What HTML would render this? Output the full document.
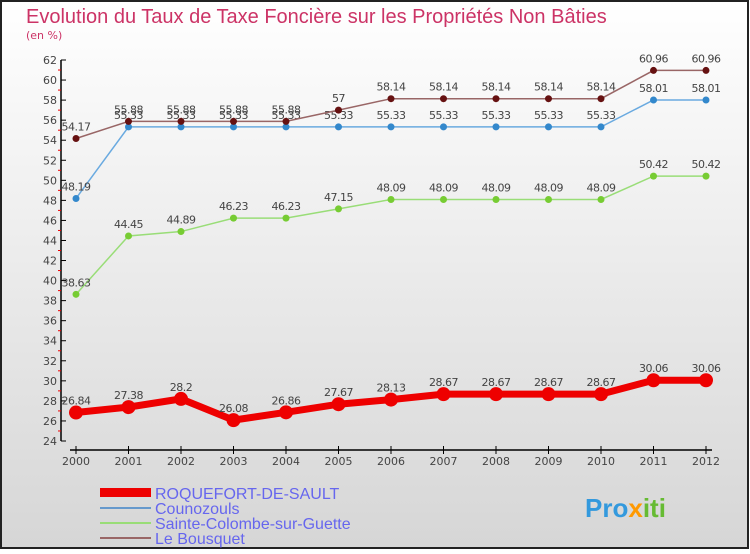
<!DOCTYPE html>
<html><head><meta charset="utf-8"><style>
html,body{margin:0;padding:0}
body{width:750px;height:550px;overflow:hidden;font-family:"DejaVu Sans","Liberation Sans",sans-serif}
</style></head><body>
<svg id="chart" width="750" height="550" xmlns="http://www.w3.org/2000/svg">
<defs><linearGradient id="bg" x1="0" y1="0" x2="0" y2="1"><stop offset="0" stop-color="#ffffff"/><stop offset="1" stop-color="#d6d6d6"/></linearGradient></defs>
<rect x="1" y="1" width="747" height="547" fill="url(#bg)" stroke="#222" stroke-width="2"/>
<text x="26" y="23" font-size="20" fill="#cc3366" font-family="Liberation Sans, sans-serif">Evolution du Taux de Taxe Foncière sur les Propriétés Non Bâties</text>
<text x="26" y="39" font-size="11" fill="#cc3366">(en %)</text>
<g id="axes"></g>
<g id="series"></g>
<g id="legend" font-family="Liberation Sans, sans-serif">
<rect x="100" y="488" width="51" height="9" fill="#ee0000"/>
<text x="155" y="499" font-size="16" fill="#6666ee">ROQUEFORT-DE-SAULT</text>
<rect x="100" y="507" width="51" height="2" fill="#6699cc"/>
<text x="155" y="514" font-size="16" fill="#6666ee">Counozouls</text>
<rect x="100" y="522" width="51" height="2" fill="#99dd77"/>
<text x="155" y="529" font-size="16" fill="#6666ee">Sainte-Colombe-sur-Guette</text>
<rect x="100" y="537" width="51" height="2" fill="#996666"/>
<text x="155" y="544" font-size="16" fill="#6666ee">Le Bousquet</text>
</g>
<text x="585" y="517" font-size="26" font-family="Liberation Sans, sans-serif" font-weight="bold" fill="#3399dd">Pro<tspan fill="#ff9900">x</tspan><tspan fill="#66bb33">iti</tspan></text>
</svg>
<script>
const years=[2000,2001,2002,2003,2004,2005,2006,2007,2008,2009,2010,2011,2012];
const roquefort=[26.84,27.38,28.2,26.08,26.86,27.67,28.13,28.67,28.67,28.67,28.67,30.06,30.06];
const counozouls=[48.19,55.33,55.33,55.33,55.33,55.33,55.33,55.33,55.33,55.33,55.33,58.01,58.01];
const sainteColombe=[38.63,44.45,44.89,46.23,46.23,47.15,48.09,48.09,48.09,48.09,48.09,50.42,50.42];
const leBousquet=[54.17,55.88,55.88,55.88,55.88,57,58.14,58.14,58.14,58.14,58.14,60.96,60.96];
const yTicks=[24,26,28,30,32,34,36,38,40,42,44,46,48,50,52,54,56,58,60,62];
const NS='http://www.w3.org/2000/svg';
const X=i=>76+i*52.5;
const Y=v=>441-(v-24)*(381/38);
function mk(tag,attrs,parent){const e=document.createElementNS(NS,tag);for(const k in attrs)e.setAttribute(k,attrs[k]);parent.appendChild(e);return e;}
const ax=document.getElementById('axes');
const yl=mk('line',{x1:61,y1:Y(62),x2:61,y2:Y(24),stroke:'#000','stroke-width':1.5},ax);


yTicks.forEach(t=>{
  const l=mk('line',{x1:61,y1:Y(t),x2:66,y2:Y(t),stroke:'#000'},ax);
  
  
  if(t<62){const m=mk('line',{x1:58,y1:Y(t+1),x2:61,y2:Y(t+1),stroke:'#e00'},ax);
  
  }
  const tx=mk('text',{x:57,y:Y(t)+4,'font-size':11,fill:'#444','text-anchor':'end'},ax);
  
  
  tx.textContent=t;
});
const xl=mk('line',{x1:70,y1:450,x2:712,y2:450,stroke:'#000','stroke-width':1.5},ax);


years.forEach((yr,i)=>{
  const l=mk('line',{x1:X(i),y1:446,x2:X(i),y2:454,stroke:'#000'},ax);
  
  
  const t=mk('text',{x:X(i),y:465,'font-size':11,fill:'#444','text-anchor':'middle'},ax);
  
  
  t.textContent=yr;
});
const sg=document.getElementById('series');
function series(name,vals,color,dot,w,r){
  const g=mk('g',{},sg);
  
  
  const p=mk('polyline',{points:vals.map((v,i)=>X(i)+','+Y(v)).join(' '),fill:'none',stroke:color,'stroke-width':w},g);
  
  
  vals.forEach((v,i)=>{
    const c=mk('circle',{cx:X(i),cy:Y(v),r:r,fill:dot},g);
    
    
    const t=mk('text',{x:X(i),y:Y(v)-8,'font-size':11,fill:'#444','text-anchor':'middle','letter-spacing':'-0.5'},g);
    
    
    t.textContent=v;
  });
}
series('sainte-colombe',sainteColombe,'#99dd77','#77cc33',1.5,3.5);
series('counozouls',counozouls,'#6aaae0','#3388cc',1.5,3.5);
series('le-bousquet',leBousquet,'#996666','#661111',1.5,3.5);
series('roquefort',roquefort,'#ee0000','#ee0000',7,7);
</script>
</body></html>
